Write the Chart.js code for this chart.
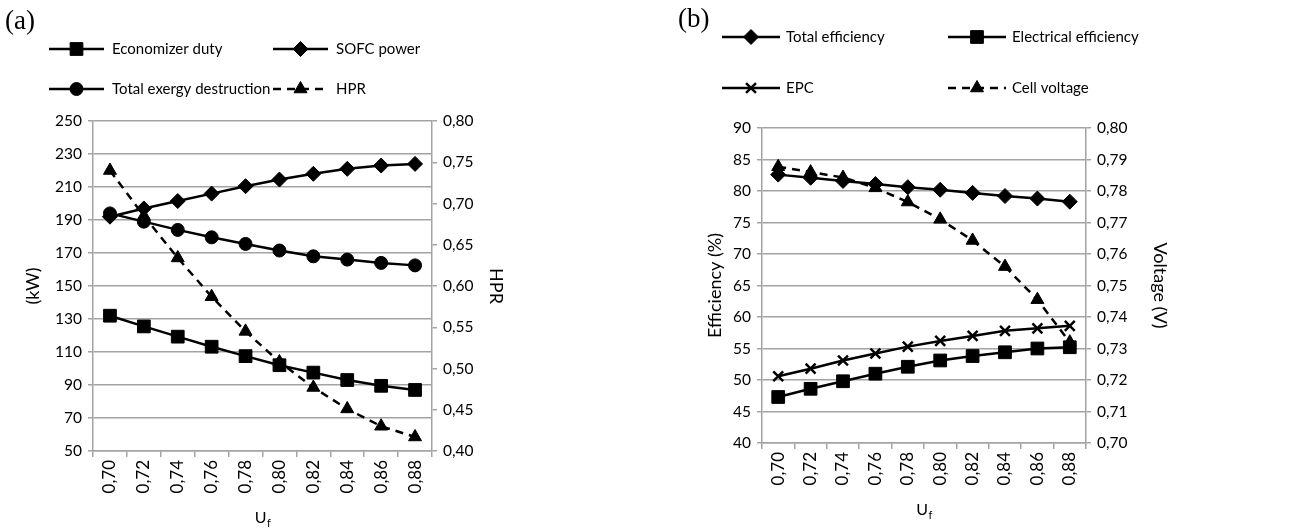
<!DOCTYPE html>
<html>
<head>
<meta charset="utf-8">
<script src="https://cdn.jsdelivr.net/npm/chart.js@4.4.0/dist/chart.umd.min.js"></script>
<style>
  html, body { margin: 0; padding: 0; background: #fff; }
  #wrap { position: relative; width: 1297px; height: 531px; }
  .box { position: absolute; top: 0; height: 531px; }
  #boxA { left: 0; width: 648px; }
  #boxB { left: 648px; width: 649px; }
</style>
</head>
<body>
<div id="wrap">
  <div class="box" id="boxA"><canvas id="chartA"></canvas></div>
  <div class="box" id="boxB"><canvas id="chartB"></canvas></div>
</div>
<script>
// fuel utilisation factor (x axis)
const ufLabels = ['0,70', '0,72', '0,74', '0,76', '0,78', '0,80', '0,82', '0,84', '0,86', '0,88'];

// panel (a)
const economizerDuty = [132, 125.5, 119.3, 113.2, 107.5, 102, 97.5, 93, 89.5, 87];
const sofcPower = [192, 197, 201.5, 206, 210.5, 214.5, 218, 221, 223, 224];
const exergyDestruction = [194, 189, 184, 179.5, 175.5, 171.5, 168, 166, 164, 162.5];
const hpr = [0.74, 0.685, 0.634, 0.587, 0.545, 0.508, 0.477, 0.451, 0.43, 0.417];

// panel (b)
const totalEfficiency = [82.6, 82.1, 81.6, 81.1, 80.6, 80.2, 79.7, 79.2, 78.8, 78.3];
const electricalEfficiency = [47.3, 48.6, 49.8, 51, 52.1, 53.1, 53.8, 54.4, 55, 55.2];
const epc = [50.6, 51.8, 53.1, 54.2, 55.3, 56.2, 57, 57.8, 58.2, 58.6];
const cellVoltage = [0.7877, 0.786, 0.7843, 0.781, 0.7765, 0.771, 0.7643, 0.756, 0.7455, 0.732];

const GRID = '#a3a3a3';
const TICK_FONT = { family: 'Lato', size: 15.5 };
const XTICK_FONT = { family: 'Lato', size: 17 };
const TITLE_FONT = { family: 'Lato', size: 18 };
Chart.defaults.font.family = 'Lato';
Chart.defaults.color = '#000';

function comma(v, d) {
    return Number(v).toFixed(d).replace('.', ',');
}

function series(label, data, style, radius, axis, dashed) {
    return {
        label: label,
        data: data,
        yAxisID: axis,
        borderColor: '#000',
        borderWidth: 2.5,
        borderDash: dashed ? [8, 6] : [],
        pointStyle: style,
        pointRadius: radius,
        pointHoverRadius: radius,
        pointBackgroundColor: '#000',
        pointBorderColor: '#000',
        pointBorderWidth: style === 'crossRot' ? 2.5 : 1,
        tension: 0,
        fill: false
    };
}

// legend, panel letter and U_f title drawn straight on the canvas
const panelExtras = {
    id: 'panelExtras',
    afterDraw(chart, args, opts) {
        const ctx = chart.ctx;
        const area = chart.chartArea;
        ctx.save();
        ctx.fillStyle = '#000';
        ctx.textBaseline = 'middle';
        ctx.textAlign = 'left';
        ctx.font = '27px "Liberation Serif"';
        ctx.fillText(opts.tag, opts.tagX, opts.tagY);

        ctx.font = '15px Lato';
        opts.items.forEach(it => {
            const ds = chart.data.datasets[it.ds];
            ctx.strokeStyle = ds.borderColor;
            ctx.lineWidth = ds.borderWidth;
            ctx.setLineDash(ds.borderDash);
            ctx.beginPath();
            ctx.moveTo(it.x, it.y);
            ctx.lineTo(it.x + opts.lineLen, it.y);
            ctx.stroke();
            ctx.setLineDash([]);
            ctx.fillStyle = ds.pointBackgroundColor;
            ctx.strokeStyle = ds.pointBorderColor;
            ctx.lineWidth = ds.pointBorderWidth;
            Chart.helpers.drawPoint(ctx, {
                pointStyle: ds.pointStyle,
                radius: ds.pointRadius,
                rotation: 0,
                borderWidth: ds.pointBorderWidth
            }, it.x + opts.lineLen / 2, it.y);
            ctx.fillStyle = '#000';
            ctx.fillText(ds.label, it.x + opts.lineLen + opts.gap, it.y);
        });

        // x axis title: U with subscript f
        const cx = (area.left + area.right) / 2;
        const cy = area.bottom + 67;
        ctx.font = '16px Lato';
        const wU = ctx.measureText('U').width;
        ctx.font = '11px Lato';
        const wf = ctx.measureText('f').width;
        const x0 = cx - (wU + wf) / 2;
        ctx.font = '16px Lato';
        ctx.fillText('U', x0, cy);
        ctx.font = '11px Lato';
        ctx.fillText('f', x0 + wU + 0.5, cy + 5);
        ctx.restore();
    }
};

function xScale(height) {
    return {
        type: 'category',
        offset: true,
        grid: { offset: true, drawOnChartArea: false, tickLength: 6, color: GRID, lineWidth: 1.5 },
        border: { color: GRID, width: 1.5 },
        ticks: { minRotation: 90, maxRotation: 90, font: XTICK_FONT, color: '#000', padding: 3 },
        afterFit(s) { s.height = height; }
    };
}

function yScale(pos, min, max, step, digits, title, width) {
    return {
        position: pos,
        min: min,
        max: max,
        grid: {
            color: GRID,
            lineWidth: 1.5,
            tickLength: 5,
            drawOnChartArea: pos === 'left'
        },
        border: { color: GRID, width: 1.5 },
        ticks: {
            stepSize: step,
            font: TICK_FONT,
            color: '#000',
            padding: 6,
            callback: v => comma(v, digits)
        },
        title: { display: true, text: title, font: TITLE_FONT, color: '#000', padding: 4 },
        afterFit(s) { s.width = width; }
    };
}

new Chart(document.getElementById('chartA'), {
    type: 'line',
    data: {
        labels: ufLabels,
        datasets: [
            series('Economizer duty', economizerDuty, 'rect', 9, 'y', false),
            series('SOFC power', sofcPower, 'rectRot', 7.5, 'y', false),
            series('Total exergy destruction', exergyDestruction, 'circle', 6.5, 'y', false),
            series('HPR', hpr, 'triangle', 7.5, 'y1', true)
        ]
    },
    options: {
        responsive: true,
        maintainAspectRatio: false,
        animation: false,
        layout: { padding: { left: 18, right: 137, top: 121, bottom: 0 } },
        plugins: {
            legend: { display: false },
            tooltip: { enabled: false },
            panelExtras: {
                tag: '(a)', tagX: 5, tagY: 22,
                lineLen: 55, gap: 8,
                items: [
                    { ds: 0, x: 49, y: 49 },
                    { ds: 1, x: 273, y: 49 },
                    { ds: 2, x: 49, y: 89 },
                    { ds: 3, x: 273, y: 89 }
                ]
            }
        },
        scales: {
            x: xScale(80),
            y: yScale('left', 50, 250, 20, 0, '(kW)', 75),
            y1: yScale('right', 0.4, 0.8, 0.05, 2, 'HPR', 79)
        }
    },
    plugins: [panelExtras]
});

new Chart(document.getElementById('chartB'), {
    type: 'line',
    data: {
        labels: ufLabels,
        datasets: [
            series('Total efficiency', totalEfficiency, 'rectRot', 7.5, 'y', false),
            series('Electrical efficiency', electricalEfficiency, 'rect', 9, 'y', false),
            series('EPC', epc, 'crossRot', 7, 'y', false),
            series('Cell voltage', cellVoltage, 'triangle', 7.5, 'y1', true)
        ]
    },
    options: {
        responsive: true,
        maintainAspectRatio: false,
        animation: false,
        layout: { padding: { left: 52, right: 122, top: 128, bottom: 0 } },
        plugins: {
            legend: { display: false },
            tooltip: { enabled: false },
            panelExtras: {
                tag: '(b)', tagX: 30, tagY: 20,
                lineLen: 58, gap: 6,
                items: [
                    { ds: 0, x: 74, y: 37 },
                    { ds: 1, x: 300, y: 37 },
                    { ds: 2, x: 74, y: 88 },
                    { ds: 3, x: 300, y: 88 }
                ]
            }
        },
        scales: {
            x: xScale(88),
            y: yScale('left', 40, 90, 5, 0, 'Efficiency (%)', 62),
            y1: yScale('right', 0.7, 0.8, 0.01, 2, 'Voltage (V)', 89)
        }
    },
    plugins: [panelExtras]
});
</script>
</body>
</html>
